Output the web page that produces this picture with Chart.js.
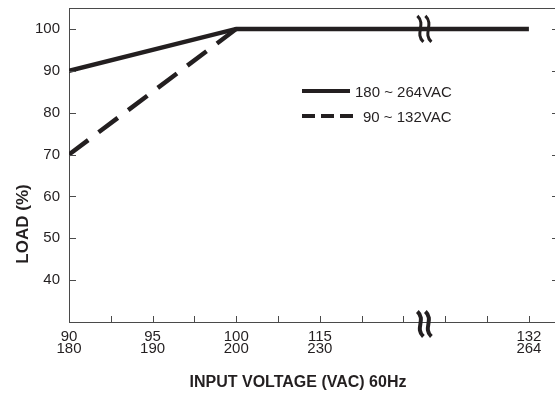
<!DOCTYPE html>
<html>
<head>
<meta charset="utf-8">
<script src="https://cdn.jsdelivr.net/npm/chart.js@4"></script>
<style>
  html, body { margin: 0; padding: 0; background: #fff; overflow: hidden; }
  #wrap { width: 570px; height: 396px; }
</style>
</head>
<body>
<div id="wrap"><canvas id="chart" width="570" height="396"></canvas></div>
<script>
// 横軸は目盛り位置(0..11)で表す。下段は 180-264VAC 側の値
const tickPositions = [0, 1, 2, 3, 4, 5, 6, 7, 8, 9, 10, 11];
const labelsLow  = ['90', '', '95', '', '100', '', '115', '', '', '', '', '132'];
const labelsHigh = ['180', '', '190', '', '200', '', '230', '', '', '', '', '264'];
const yTicks = [40, 50, 60, 70, 80, 90, 100];

// 180 ~ 264VAC
const highX = [0, 4, 11];
const highLoad = [90, 100, 100];
// 90 ~ 132VAC
const lowX = [0, 4];
const lowLoad = [70, 100];

const breakPos = 8.5;

const INK = '#231f20';
const AXIS = '#4a4a4a';
const tickFont = "'Liberation Sans Narrow', 'Arial Narrow', 'Liberation Sans', Arial, sans-serif";
const textFont = "'Liberation Sans', Arial, sans-serif";

function toPoints(xs, ys) {
    return xs.map((x, i) => ({ x: x, y: ys[i] }));
}

// 波線（軸の省略記号）
function drawWave(ctx, x, cy, h, lw) {
    ctx.save();
    ctx.strokeStyle = INK;
    ctx.lineWidth = lw;
    ctx.lineCap = 'butt';
    [-4, 4].forEach(dx => {
        const cx = x + dx;
        ctx.beginPath();
        ctx.moveTo(cx - 3, cy - h / 2);
        ctx.bezierCurveTo(cx + 6, cy - h / 6, cx - 6, cy + h / 6, cx + 3, cy + h / 2);
        ctx.stroke();
    });
    ctx.restore();
}

const decorations = {
    id: 'decorations',
    afterDraw(chart) {
        const ctx = chart.ctx;
        const area = chart.chartArea;
        const xs = chart.scales.x;
        const ys = chart.scales.y;

        ctx.save();
        // 上と右の枠
        ctx.strokeStyle = AXIS;
        ctx.lineWidth = 1;
        ctx.beginPath();
        ctx.moveTo(area.left, area.top + 0.5);
        ctx.lineTo(area.right, area.top + 0.5);
        ctx.lineTo(area.right, area.bottom);
        ctx.stroke();

        // 内向きの目盛り
        ctx.beginPath();
        yTicks.forEach(v => {
            const py = Math.round(ys.getPixelForValue(v)) + 0.5;
            ctx.moveTo(area.left, py);
            ctx.lineTo(area.left + 7, py);
            ctx.moveTo(area.right, py);
            ctx.lineTo(area.right - 7, py);
        });
        tickPositions.forEach(v => {
            if (v === 0) return;
            const px = Math.round(xs.getPixelForValue(v)) + 0.5;
            ctx.moveTo(px, area.bottom);
            ctx.lineTo(px, area.bottom - 6);
        });
        ctx.stroke();

        // 凡例
        ctx.strokeStyle = INK;
        ctx.lineWidth = 4;
        ctx.beginPath();
        ctx.moveTo(302, 91);
        ctx.lineTo(350, 91);
        ctx.stroke();
        ctx.setLineDash([13, 6]);
        ctx.beginPath();
        ctx.moveTo(302, 116);
        ctx.lineTo(355, 116);
        ctx.stroke();
        ctx.setLineDash([]);

        ctx.fillStyle = INK;
        ctx.font = '15px ' + textFont;
        ctx.textAlign = 'left';
        ctx.textBaseline = 'alphabetic';
        ctx.fillText('180 ~ 264VAC', 355, 97);
        ctx.fillText('90 ~ 132VAC', 363, 122);

        // 軸タイトル
        ctx.font = 'bold 16px ' + textFont;
        ctx.textAlign = 'center';
        ctx.textBaseline = 'middle';
        ctx.fillText('INPUT VOLTAGE (VAC) 60Hz', 298, 383);
        ctx.save();
        ctx.font = 'bold 17px ' + textFont;
        ctx.translate(23, 224);
        ctx.rotate(-Math.PI / 2);
        ctx.fillText('LOAD (%)', 0, 0);
        ctx.restore();

        // 省略記号
        const bx = xs.getPixelForValue(breakPos);
        drawWave(ctx, bx, ys.getPixelForValue(100), 26, 3);
        drawWave(ctx, bx, area.bottom + 2, 25, 4);
        ctx.restore();
    }
};

new Chart(document.getElementById('chart'), {
    type: 'scatter',
    data: {
        datasets: [{
            label: '180 ~ 264VAC',
            data: toPoints(highX, highLoad),
            showLine: true,
            borderColor: INK,
            borderWidth: 4.5,
            pointRadius: 0,
            tension: 0
        }, {
            label: '90 ~ 132VAC',
            data: toPoints(lowX, lowLoad),
            showLine: true,
            borderColor: INK,
            borderWidth: 4.5,
            borderDash: [24, 13],
            pointRadius: 0,
            tension: 0
        }]
    },
    options: {
        responsive: false,
        animation: false,
        layout: { padding: { top: 8, right: 11, left: 0, bottom: 0 } },
        plugins: {
            legend: { display: false },
            tooltip: { enabled: false }
        },
        scales: {
            x: {
                type: 'linear',
                min: 0,
                max: 11.72,
                afterFit: scale => {
                    scale.height = 74;
                    scale.paddingLeft = 0;
                    scale.paddingRight = 0;
                },
                afterBuildTicks: scale => {
                    scale.ticks = tickPositions.map(v => ({ value: v }));
                },
                grid: { display: false, drawTicks: false },
                border: { display: true, color: AXIS, width: 1 },
                ticks: {
                    autoSkip: false,
                    maxRotation: 0,
                    padding: 8,
                    color: INK,
                    font: { family: tickFont, size: 15, lineHeight: 0.85 },
                    callback: function(value) {
                        const i = tickPositions.indexOf(value);
                        if (i < 0 || labelsLow[i] === '') return '';
                        return [labelsLow[i], labelsHigh[i]];
                    }
                }
            },
            y: {
                min: 30,
                max: 105,
                afterFit: scale => {
                    scale.width = 69;
                    scale.paddingTop = 0;
                    scale.paddingBottom = 0;
                },
                afterBuildTicks: scale => {
                    scale.ticks = yTicks.map(v => ({ value: v }));
                },
                grid: { display: false, drawTicks: false },
                border: { display: true, color: AXIS, width: 1 },
                ticks: {
                    padding: 9,
                    color: INK,
                    font: { family: tickFont, size: 15 }
                }
            }
        }
    },
    plugins: [decorations]
});
</script>
</body>
</html>
